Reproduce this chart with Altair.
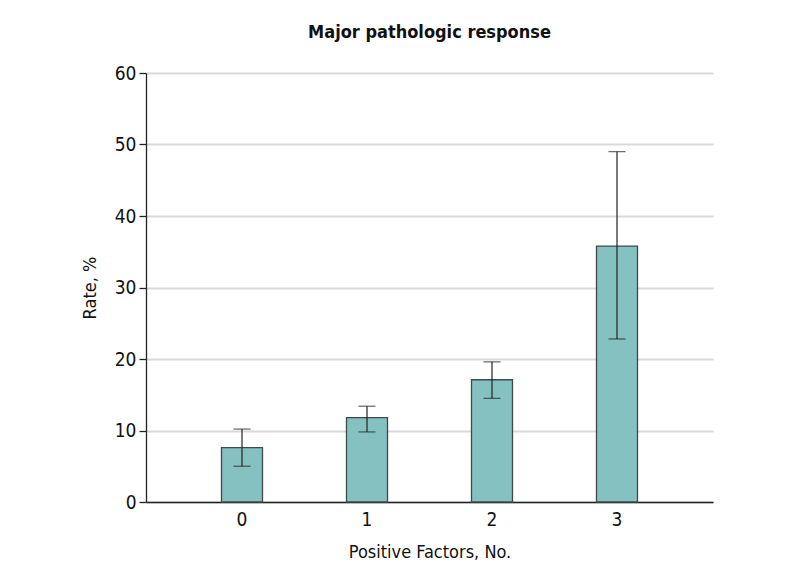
import altair as alt
import pandas as pd

categories = ["0", "1", "2", "3"]
rates = [7.6, 11.8, 17.1, 35.8]
lower = [5.0, 9.8, 14.5, 22.8]
upper = [10.2, 13.4, 19.6, 49.0]

df = pd.DataFrame({"factor": categories, "rate": rates, "lo": lower, "hi": upper})

FONT = "Liberation Sans Narrow, DejaVu Sans Condensed, Liberation Sans, sans-serif"

xscale = alt.Scale(domain=categories, paddingInner=0.672, paddingOuter=0.604)
x = alt.X("factor:N", scale=xscale, sort=categories,
          axis=alt.Axis(title="Positive Factors, No.", labelAngle=0, ticks=False,
                        grid=False, domainColor="#222222", domainWidth=1.3,
                        labelFontSize=19, labelPadding=8, labelColor="#111111",
                        titleFontSize=18, titleFontWeight="normal", titlePadding=14,
                        titleColor="#111111"))
yscale = alt.Scale(domain=[0, 60], nice=False)
y = alt.Y("rate:Q", scale=yscale,
          axis=alt.Axis(title="Rate, %", values=[0, 10, 20, 30, 40, 50, 60],
                        grid=True, gridColor="#d9d9d9", gridWidth=2,
                        domainColor="#222222", domainWidth=1.3,
                        tickColor="#222222", tickSize=7, tickWidth=1.3,
                        labelFontSize=19, labelPadding=3, labelColor="#111111",
                        titleFontSize=18, titleFontWeight="normal", titlePadding=15,
                        titleColor="#111111"))

xe = alt.X("factor:N", scale=xscale, sort=categories)

bars = alt.Chart(df).mark_bar(color="#85c1c0", stroke="#3d4a4a", strokeWidth=1.3).encode(x=x, y=y)

rules = alt.Chart(df).mark_rule(color="#222222", strokeWidth=1.2).encode(
    x=xe,
    y=alt.Y("lo:Q", scale=yscale),
    y2="hi:Q")
cap_lo = alt.Chart(df).mark_tick(color="#222222", size=17, thickness=1.2, orient="horizontal").encode(
    x=xe,
    y=alt.Y("lo:Q", scale=yscale))
cap_hi = alt.Chart(df).mark_tick(color="#222222", size=17, thickness=1.2, orient="horizontal").encode(
    x=xe,
    y=alt.Y("hi:Q", scale=yscale))

chart = (bars + rules + cap_lo + cap_hi).properties(
    width=567, height=429,
    title=alt.TitleParams("Major pathologic response", fontSize=18, fontWeight=600,
                          color="#111111", anchor="middle", offset=22),
    autosize=alt.AutoSizeParams(type="none"),
    padding={"left": 138, "top": 65, "right": 77, "bottom": 70},
).configure(font=FONT).configure_view(stroke=None)

chart.save("out.html", embed_options={"renderer": "svg", "actions": False})
